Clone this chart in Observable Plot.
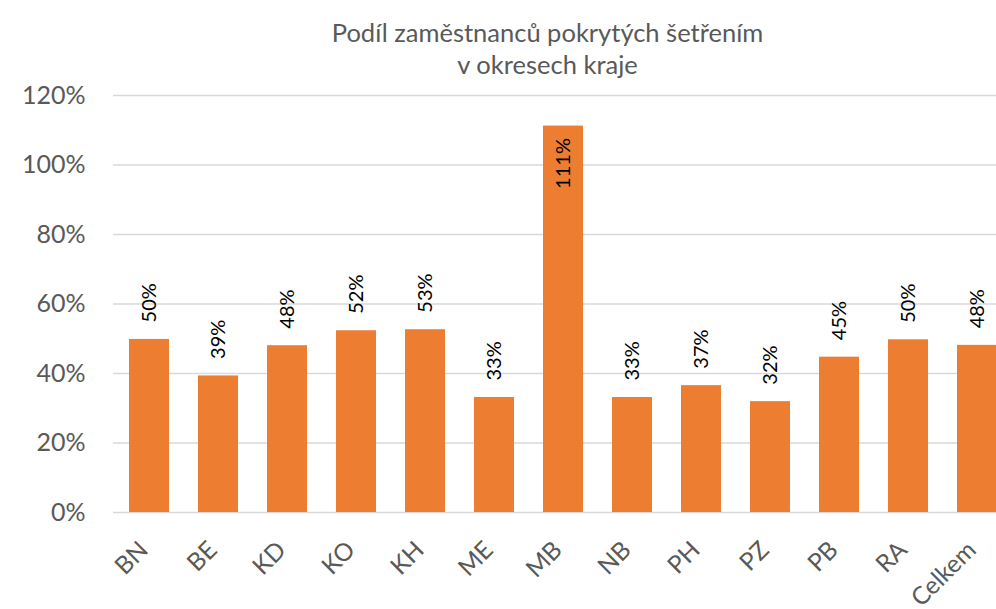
<!DOCTYPE html>
<html>
<head>
<meta charset="utf-8">
<script src="https://cdn.jsdelivr.net/npm/d3@7"></script>
<script src="https://cdn.jsdelivr.net/npm/@observablehq/plot@0.6"></script>
<style>
  html, body { margin: 0; padding: 0; background: #fff; }
  #wrap { width: 996px; height: 609px; overflow: hidden; position: relative; }
  #title { box-sizing: border-box; width: 996px; height: 80px; padding: 16px 0 0 99px; text-align: center;
    font-family: Lato, sans-serif; font-size: 25.5px; line-height: 32px; color: #595959; }
  svg { display: block; }
</style>
</head>
<body>
<div id="wrap">
  <div id="title">Podíl zaměstnanců pokrytých šetřením<br>v okresech kraje</div>
  <div id="chart"></div>
</div>
<script>
const categories = ["BN", "BE", "KD", "KO", "KH", "ME", "MB", "NB", "PH", "PZ", "PB", "RA", "Celkem"];
const values = [0.498, 0.393, 0.480, 0.523, 0.526, 0.331, 1.112, 0.331, 0.365, 0.319, 0.447, 0.497, 0.481];
const labels = ["50%", "39%", "48%", "52%", "53%", "33%", "111%", "33%", "37%", "32%", "45%", "50%", "48%"];
const yTicks = [0, 0.2, 0.4, 0.6, 0.8, 1.0, 1.2];
const yTickLabels = ["0%", "20%", "40%", "60%", "80%", "100%", "120%"];

const data = categories.map((c, i) => ({cat: c, v: values[i], label: labels[i]}));
const ticks = yTicks.map((t, i) => ({t, label: yTickLabels[i]}));
const outside = data.filter(d => d.v <= 1.05);
const inside = data.filter(d => d.v > 1.05);

const chart = Plot.plot({
  width: 996,
  height: 529,
  marginTop: 15,
  marginBottom: 97,
  marginLeft: 113,
  marginRight: 0,
  style: {fontFamily: "Lato, sans-serif", background: "#fff"},
  x: {type: "band", domain: categories, range: [112.35, 1013.6], paddingInner: 0.42, paddingOuter: 0.21, axis: null},
  y: {domain: [0, 1.2], axis: null},
  marks: [
    Plot.ruleY(ticks, {y: "t", stroke: "#d9d9d9", strokeWidth: 1.3}),
    Plot.barY(data, {x: "cat", y: "v", fill: "#ED7D31"}),
    Plot.text(ticks, {y: "t", text: "label", frameAnchor: "left", textAnchor: "end", dx: -28, fill: "#595959", fontSize: 25}),
    Plot.text(data, {x: "cat", text: "cat", frameAnchor: "bottom", textAnchor: "end", rotate: -45, dx: 0, dy: 39, fill: "#595959", fontSize: 24.5}),
    Plot.text(outside, {x: "cat", y: "v", text: "label", rotate: -90, textAnchor: "start", lineAnchor: "middle", dy: -17, fill: "#000", fontSize: 20}),
    Plot.text(inside, {x: "cat", y: "v", text: "label", rotate: -90, textAnchor: "end", lineAnchor: "middle", dy: 12, fill: "#000", fontSize: 20})
  ]
});
document.getElementById("chart").appendChild(chart);
</script>
</body>
</html>
